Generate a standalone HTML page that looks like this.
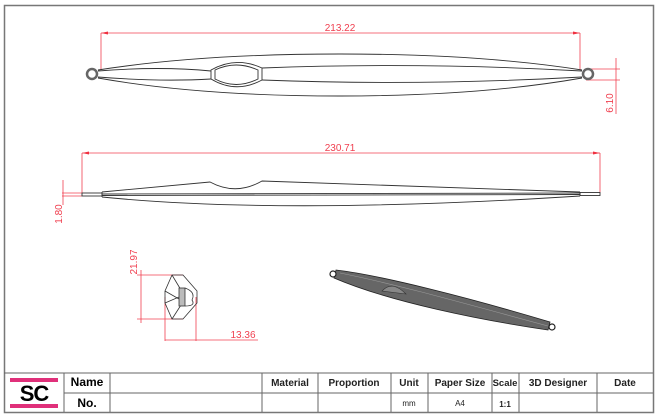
<!DOCTYPE html>
<html><head><style>
html,body{margin:0;padding:0;background:#fff;}
svg{display:block;}
text{font-family:"Liberation Sans",sans-serif;}
</style></head><body>
<svg width="658" height="415" viewBox="0 0 658 415" xmlns="http://www.w3.org/2000/svg">
<rect x="4.5" y="5.5" width="649" height="407" fill="none" stroke="#777" stroke-width="1.5"/>
<!-- View 1 -->
<g stroke="#f04050" stroke-width="0.8" fill="none">
<line x1="101" y1="33" x2="580" y2="33"/>
<line x1="101" y1="33" x2="101" y2="70"/>
<line x1="580" y1="33" x2="580" y2="70"/>
<line x1="586" y1="69" x2="620" y2="69"/>
<line x1="586" y1="80" x2="620" y2="80"/>
<line x1="616" y1="58" x2="616" y2="114"/>
</g>
<path d="M101,33 l7,-1.5 v3z M580,33 l-7,-1.5 v3z" fill="#f03040"/>
<text x="340" y="31" fill="#f04050" font-size="10" text-anchor="middle">213.22</text>
<text transform="translate(613,103) rotate(-90)" fill="#f04050" font-size="10" text-anchor="middle">6.10</text>
<g stroke="#333" stroke-width="0.9" fill="none">
<circle cx="92" cy="74" r="5" stroke-width="2.5" stroke="#666"/>
<circle cx="588" cy="74" r="5" stroke-width="2.5" stroke="#666"/>
<path d="M98,70 Q200,54 340,54 Q480,54 582,70"/>
<path d="M98,78 Q200,96 340,96 Q480,96 582,78"/>
<path d="M98,71 Q160,66 211,71 M262,68 Q420,62 582,71"/>
<path d="M98,77 Q160,82 211,79 M262,80 Q420,86 582,77"/>
<path d="M211,70 Q236,56 262,68 L262,80 Q236,94 211,79 Z"/>
<path d="M215,70 Q236,60 258,70 L258,79 Q236,90 215,79 Z"/>
</g>
<!-- View 2 -->
<g stroke="#f04050" stroke-width="0.8" fill="none">
<line x1="82" y1="153" x2="600" y2="153"/>
<line x1="82" y1="153" x2="82" y2="193"/>
<line x1="600" y1="153" x2="600" y2="193"/>
<line x1="62" y1="193" x2="82" y2="193"/>
<line x1="62" y1="196" x2="82" y2="196"/>
<line x1="63" y1="180" x2="63" y2="205"/>
</g>
<path d="M82,153 l7,-1.5 v3z M600,153 l-7,-1.5 v3z" fill="#f03040"/>
<text x="340" y="151" fill="#f04050" font-size="10" text-anchor="middle">230.71</text>
<text transform="translate(62,214) rotate(-90)" fill="#f04050" font-size="10" text-anchor="middle">1.80</text>
<g stroke="#333" stroke-width="0.9" fill="none">
<rect x="82" y="193" width="20" height="3"/>
<rect x="580" y="192.5" width="20" height="3"/>
<path d="M102,192 L210,182 Q236,196 262,181 L580,192"/>
<path d="M102,197 Q280,215 580,196"/>
<path d="M102,194 L580,193 M102,195.5 L580,194.5"/>
<line x1="102" y1="192" x2="102" y2="197"/>
<line x1="580" y1="192" x2="580" y2="196"/>
</g>
<!-- View 3 -->
<g stroke="#f04050" stroke-width="0.8" fill="none">
<line x1="137" y1="275" x2="183" y2="275"/>
<line x1="137" y1="319" x2="183" y2="319"/>
<line x1="141" y1="270" x2="141" y2="323"/>
<line x1="165" y1="297" x2="165" y2="341"/>
<line x1="196" y1="297" x2="196" y2="341"/>
<line x1="165" y1="340" x2="258" y2="340"/>
</g>
<text transform="translate(137,262) rotate(-90)" fill="#f04050" font-size="10" text-anchor="middle">21.97</text>
<text x="243" y="338" fill="#f04050" font-size="10" text-anchor="middle">13.36</text>
<g stroke="#333" stroke-width="0.8" fill="none">
<path d="M172,275 L183,275 L197,291 L197,303 L183,319 L172,319 L165,303 L165,291 Z"/>
<path d="M165,291 L179,299 M165,303 L179,297 M172,275 L181,290 M172,319 L181,305"/>
<rect x="179" y="288" width="6" height="18" fill="#bbb"/>
<path d="M185,288 Q196,292 192,300 Q196,306 185,306"/>
</g>
<!-- 3D -->
<g>
<path d="M336,270 C380,275 470,298 550,322 L548,330 C480,320 390,302 334,278 Z" fill="#666" stroke="#222" stroke-width="0.8"/>
<path d="M340,273 C400,285 470,305 548,326" stroke="#999" stroke-width="0.6" fill="none"/>
<path d="M382,291 Q392,280 406,294 Z" fill="#888" stroke="#333" stroke-width="0.6"/>
<circle cx="333" cy="274" r="3" fill="#fff" stroke="#222" stroke-width="1.2"/>
<circle cx="552" cy="327" r="3" fill="#fff" stroke="#222" stroke-width="1.2"/>
</g>
<!-- Title block -->
<g stroke="#666" stroke-width="1" fill="none">
<line x1="4" y1="373" x2="653" y2="373"/>
<line x1="64" y1="393" x2="653" y2="393"/>
<line x1="64" y1="373" x2="64" y2="412"/>
<line x1="110" y1="373" x2="110" y2="412"/>
<line x1="262" y1="373" x2="262" y2="412"/>
<line x1="318" y1="373" x2="318" y2="412"/>
<line x1="391" y1="373" x2="391" y2="412"/>
<line x1="428" y1="373" x2="428" y2="412"/>
<line x1="492" y1="373" x2="492" y2="412"/>
<line x1="519" y1="373" x2="519" y2="412"/>
<line x1="597" y1="373" x2="597" y2="412"/>
</g>
<rect x="10" y="378" width="48" height="4" fill="#e0307a"/>
<rect x="10" y="404" width="48" height="4" fill="#e0307a"/>
<text x="34" y="401" font-size="22" font-weight="bold" text-anchor="middle" fill="#000" letter-spacing="-1">SC</text>
<g font-weight="bold" font-size="12" fill="#000" text-anchor="middle">
<text x="87" y="386">Name</text>
<text x="87" y="407">No.</text>
</g>
<g font-weight="bold" font-size="10" fill="#222" text-anchor="middle">
<text x="290" y="386">Material</text>
<text x="354" y="386">Proportion</text>
<text x="409" y="386">Unit</text>
<text x="460" y="386">Paper Size</text>
<text x="505" y="386" font-size="9.5">Scale</text>
<text x="558" y="386">3D Designer</text>
<text x="625" y="386">Date</text>
<text x="505" y="407" font-size="8">1:1</text>
</g>
<g font-size="8" fill="#222" text-anchor="middle">
<text x="409" y="406">mm</text>
<text x="460" y="406">A4</text>
</g>
</svg>
</body></html>
